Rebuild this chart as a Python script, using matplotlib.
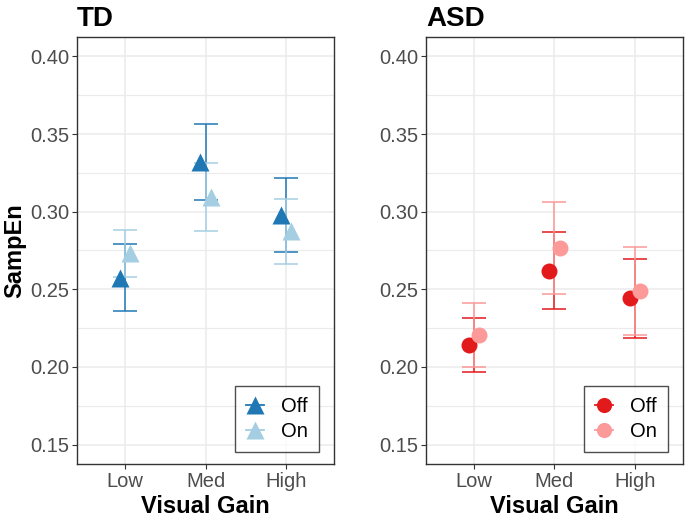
import matplotlib
matplotlib.use("Agg")
import matplotlib.pyplot as plt
from matplotlib.lines import Line2D
import numpy as np

plt.rcParams['font.family'] = ['Liberation Sans', 'DejaVu Sans']

categories = ["Low", "Med", "High"]
conditions = ["Off", "On"]

# TD panel
td_off_mean = [0.2576, 0.3322, 0.2977]
td_off_low = [0.2359, 0.3078, 0.2739]
td_off_high = [0.2793, 0.3567, 0.3215]
td_on_mean = [0.2733, 0.3095, 0.2873]
td_on_low = [0.2580, 0.2876, 0.2664]
td_on_high = [0.2885, 0.3314, 0.3082]

# ASD panel
asd_off_mean = [0.2142, 0.2621, 0.2442]
asd_off_low = [0.1967, 0.2372, 0.2188]
asd_off_high = [0.2317, 0.2870, 0.2696]
asd_on_mean = [0.2206, 0.2764, 0.2489]
asd_on_low = [0.1999, 0.2468, 0.2207]
asd_on_high = [0.2413, 0.3060, 0.2771]

yticks = [0.15, 0.20, 0.25, 0.30, 0.35, 0.40]
yminor = [0.175, 0.225, 0.275, 0.325, 0.375]

W, H = 685, 517
fig = plt.figure(figsize=(W / 100, H / 100), dpi=100)

def make_ax(left_px):
    return fig.add_axes([left_px / W, (H - 464) / H, 257 / W, 427 / H])

ax_td = make_ax(77)
ax_asd = make_ax(426)

panels = [
    (ax_td, "TD", "^", 13, ["#1f78b4", "#a6cee3"],
     [(td_off_mean, td_off_low, td_off_high), (td_on_mean, td_on_low, td_on_high)]),
    (ax_asd, "ASD", "o", 11.5, ["#e31a1c", "#fb9a99"],
     [(asd_off_mean, asd_off_low, asd_off_high), (asd_on_mean, asd_on_low, asd_on_high)]),
]

x = np.arange(len(categories))
dodge = [-0.0625, 0.0625]

for ax, title, marker, ms, colors, series in panels:
    ax.set_yticks(yticks)
    ax.set_yticklabels([f"{v:.2f}" for v in yticks])
    ax.set_yticks(yminor, minor=True)
    ax.set_xticks(x)
    ax.set_xticklabels(categories)
    ax.set_xlim(-0.6, 2.6)
    ax.set_ylim(0.1375, 0.4125)
    ax.grid(True, which="major", color="#ebebeb", lw=1.1, zorder=0)
    ax.grid(True, which="minor", axis="y", color="#ebebeb", lw=0.8, zorder=0)
    ax.tick_params(which="minor", length=0)
    ax.tick_params(which="major", length=3.5, width=0.8, color="#333333",
                   labelsize=14.5, labelcolor="#4d4d4d", pad=2)
    for sp in ax.spines.values():
        sp.set_color("#333333")
        sp.set_linewidth(1.0)
    ax.set_axisbelow(True)
    # error bars (not dodged)
    for (m, lo, hi), c in zip(series, colors):
        m = np.array(m); lo = np.array(lo); hi = np.array(hi)
        ax.errorbar(x, m, yerr=[m - lo, hi - m], fmt="none", ecolor=c,
                    elinewidth=1.3, capsize=8.6, capthick=1.3, alpha=0.85, zorder=2)
    # points (dodged)
    for (m, lo, hi), c, d in zip(series, colors, dodge):
        ax.plot(x + d, m, linestyle="none", marker=marker, ms=ms, color=c,
                mec="none", zorder=3)
    ax.set_title(title, loc="left", fontsize=20, fontweight="bold", pad=8)
    ax.set_xlabel("Visual Gain", fontsize=17, fontweight="bold", labelpad=3)
    handles = [Line2D([0], [0], color=c, marker=marker, ms=ms * 0.95, lw=1.3,
                      mec="none") for c in colors]
    leg = ax.legend(handles, conditions, loc="lower right",
                    bbox_to_anchor=(0.942, 0.028), borderaxespad=0,
                    fontsize=14.5, frameon=True, fancybox=False, handlelength=0.9,
                    handletextpad=0.85, borderpad=0.55, labelspacing=0.3)
    leg.get_frame().set_edgecolor("#222222")
    leg.get_frame().set_linewidth(1.0)

ax_td.set_ylabel("SampEn", fontsize=17, fontweight="bold", labelpad=3)

fig.savefig("out.png", dpi=100)
